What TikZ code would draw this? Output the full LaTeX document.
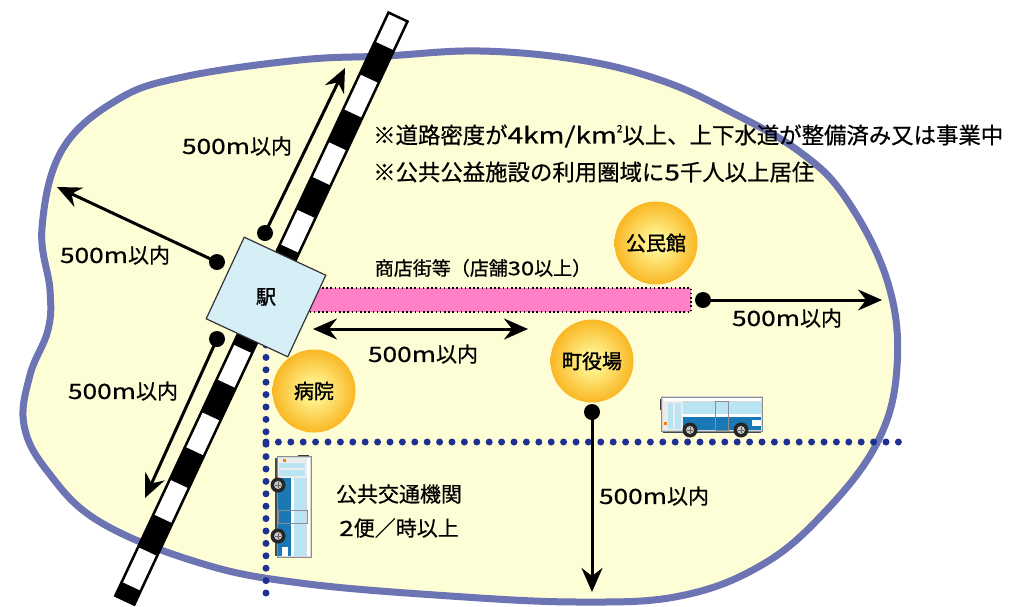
\documentclass[tikz,border=0pt]{standalone}
\usepackage{fontspec}
\setmainfont[FakeBold=0.6]{Noto Sans CJK JP}
\newfontfamily\latwide[FakeStretch=1.25, FakeBold=0.6]{Noto Sans CJK JP}
\newfontfamily\heavy[FakeBold=1.4]{Noto Sans CJK JP}
\newcommand\wl[1]{{\latwide #1}}
\usetikzlibrary{arrows.meta}

\definecolor{areafill}{HTML}{FEFED6}
\definecolor{areaedge}{HTML}{6C74B4}
\definecolor{dotblue}{HTML}{1F3093}
\definecolor{stationfill}{HTML}{D6EEF6}
\definecolor{shopfill}{HTML}{FF80C6}
\definecolor{ballin}{HTML}{FFF08A}
\definecolor{ballmid}{HTML}{F9B41E}
\definecolor{ballout}{HTML}{F29400}
\definecolor{busblue}{HTML}{1A78B4}
\definecolor{buswin}{HTML}{B9E5F2}
\definecolor{busgray}{HTML}{8A8F94}

\pgfdeclareradialshading{ball}{\pgfpoint{0bp}{0bp}}{color(0bp)=(ballin); color(6bp)=(ballin); color(26bp)=(ballmid); color(44bp)=(ballout); color(50bp)=(ballout)}

\tikzset{
  lbl/.style={inner sep=0pt, font=\fontsize{21}{24}\selectfont},
  note/.style={inner sep=0pt, anchor=west, font=\fontsize{22.4}{26}\selectfont},
  facility/.style={circle, minimum size=83pt, inner sep=0pt, shading=ball,
    font=\fontsize{20}{22}\selectfont\heavy},
  stationbox/.style={draw=black!80, line width=1.2pt, fill=stationfill,
    minimum width=90pt, minimum height=90pt, inner sep=0pt},
  startdot/.style={circle, fill=black, minimum size=16pt, inner sep=0pt},
  arr/.style={line width=3pt, -{Stealth[length=24pt, width=21pt, inset=8pt]}},
  darr/.style={line width=3pt, {Stealth[length=24pt, width=21pt, inset=8pt]}-{Stealth[length=24pt, width=21pt, inset=8pt]}},
  dotline/.style={draw=dotblue, line width=7pt, line cap=round, dash pattern=on 0pt off 12.4pt},
  bus/.pic={
    \fill[busgray!50!black] (3,33) rectangle (101,38);
    \fill[busgray!35] (1,1) rectangle (103,36);
    \fill[white] (3,3) rectangle (101,6);
    \fill[buswin] (23,7) rectangle (101,19);
    \fill[white] (23,19) rectangle (101,22);
    \fill[busblue] (23,22) rectangle (101,35);
    \fill[white!85!gray] (3,6) rectangle (23,35);
    \fill[buswin] (8,8) rectangle (13,34);
    \fill[buswin] (15,8) rectangle (21,34);
    \draw[busgray, line width=0.8pt] (55,6) rectangle (68,35);
    \fill[buswin] (57,8) rectangle (66,17);
    \fill[white] (92,25) rectangle (101,31);
    \fill[orange] (4,27) rectangle (7,30);
    \fill[busgray!40!black] (0,4) rectangle (2,15);
    \draw[busgray, line width=1pt] (1,2) rectangle (102,36);
    \foreach \wx in {30,81}{
      \fill[black!85] (\wx,35) circle (7.5);
      \fill[gray!45] (\wx,35) circle (4);
      \draw[black!60, line width=0.6pt] (\wx-3,35) -- (\wx+3,35) (\wx,32) -- (\wx,38);
    }
  }
}

\begin{document}
\begin{tikzpicture}[x=1pt, y=-1pt]
\useasboundingbox (0,0) rectangle (1021,606);
\fill[white] (0,0) rectangle (1021,606);

% service area
\draw[line width=7pt, draw=areaedge, fill=areafill]
  plot[smooth cycle, tension=0.65] coordinates {
    (300,60) (385,56) (480,51) (580,60) (660,80) (727,110) (800,152)
    (847,200) (888,283) (897,367) (877,443) (822,515) (760,566)
    (680,596) (580,602) (450,596) (300,583) (200,563) (100,522)
    (48,472) (24,425) (30,375) (48,330) (50,290) (42,228) (62,150)
    (117,100) (183,77)};

% shopping street
\draw[fill=shopfill, line width=1.6pt, dash pattern=on 1.6pt off 2.6pt]
  (300,288) rectangle (691,312);

% public transport corridors
\coordinate (vtop) at (266,345);
\coordinate (vbot) at (266,594);
\coordinate (hleft) at (266,442);
\coordinate (hright) at (908,442);
\draw[dotline] (vtop) -- (vbot);
\draw[dotline] (hleft) -- (hright);

% railway
\begin{scope}[shift={(398,17)}, rotate=-115.1]
  \fill[white] (0,-10.5) rectangle (644,10.5);
  \foreach \s in {32,106.6,181.2,255.8,330.4,405,479.6,554.2,628.8}
    \fill[black] (\s,-10.5) rectangle ({min(\s+36,644)},10.5);
  \draw[line width=2.5pt] (0,-10.5) rectangle (644,10.5);
\end{scope}

% distance arrows
\node[startdot] (d1) at (265,233) {};
\coordinate (t1) at (345,68);
\draw[arr] (d1.center) -- (t1);
\node[startdot] (d2) at (217,262) {};
\coordinate (t2) at (57,187);
\draw[arr] (d2.center) -- (t2);
\node[startdot] (d3) at (217,339) {};
\coordinate (t3) at (145,498);
\draw[arr] (d3.center) -- (t3);
\coordinate (h1) at (313,329);
\coordinate (h2) at (528,329);
\draw[darr] (h1) -- (h2);
\node[startdot] (d5) at (703,300) {};
\coordinate (t5) at (882,300);
\draw[arr] (d5.center) -- (t5);
\node[startdot] (d6) at (592,412) {};
\coordinate (t6) at (592,592);
\draw[arr] (d6.center) -- (t6);

% station
\node[stationbox, rotate=-25] (ekibox) at (266,297) {};
\node[lbl, font=\fontsize{20}{22}\selectfont\heavy] (eki) at (ekibox.center) {駅};

% facilities
\node[facility] (kominkan) at (656,243) {公民館};
\node[facility] (yakuba) at (592,361) {町役場};
\node[facility] (byoin) at (314,391) {病院};

% buses
\pic at (660,395) {bus};
\pic[rotate=-90] at (313,455) {bus};

% labels
\node[lbl] (l1) at (237,146) {\wl{500m}以内};
\node[lbl] (l2) at (115,255) {\wl{500m}以内};
\node[lbl] (l3) at (123,391) {\wl{500m}以内};
\node[lbl] (l4) at (423,354) {\wl{500m}以内};
\node[lbl] (l5) at (787,318) {\wl{500m}以内};
\node[lbl] (l6) at (654,496) {\wl{500m}以内};
\node[lbl, font=\fontsize{19}{22}\selectfont] (shop) at (483,268) {商店街等（店舗\wl{30}以上）};
\node[note] (n1) at (373,136) {※道路密度が\wl{4km/km}\raisebox{0.5em}{\fontsize{10}{10}\selectfont 2}以上、上下水道が整備済み又は事業中};
\node[note] (n2) at (373,172) {※公共公益施設の利用圏域に\wl{5}千人以上居住};
\node[lbl] (p1) at (399,494) {公共交通機関};
\node[lbl] (p2) at (399,528) {\wl{2}便／時以上};
\end{tikzpicture}
\end{document}
